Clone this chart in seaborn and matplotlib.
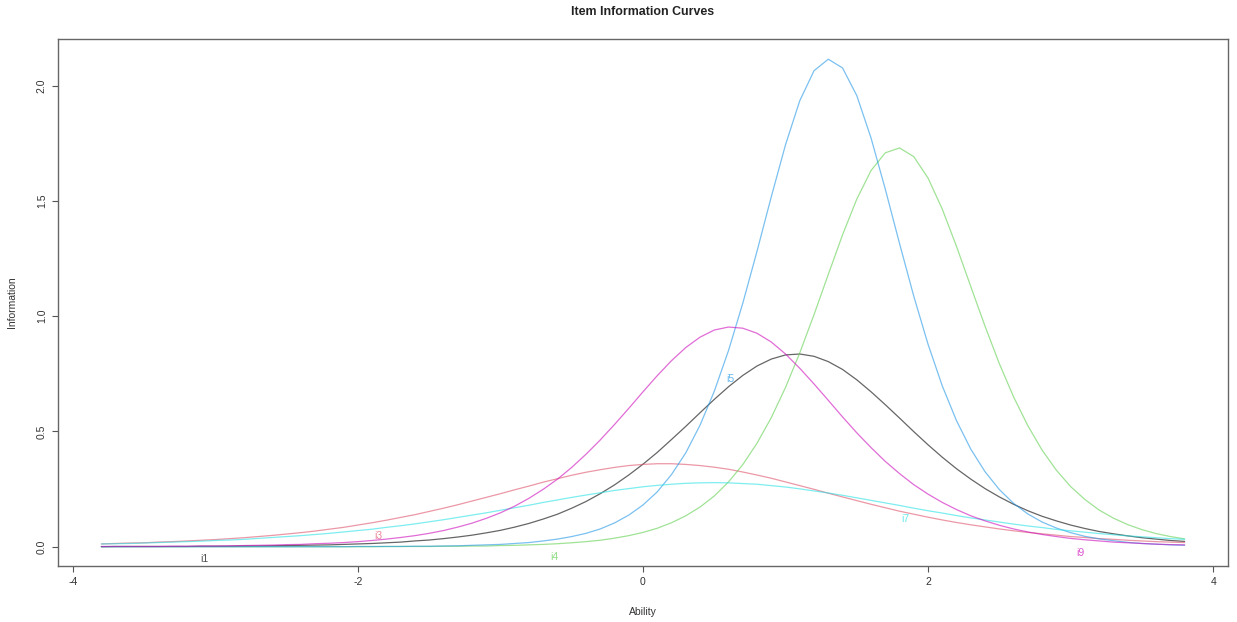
import matplotlib
matplotlib.use('Agg')
import matplotlib.pyplot as plt
import pandas as pd
import seaborn as sns

# Ability grid (theta) used for all the item curves
ABILITY = [-3.8, -3.7, -3.6, -3.5, -3.4, -3.3, -3.2, -3.1, -3.0, -2.9,
           -2.8, -2.7, -2.6, -2.5, -2.4, -2.3, -2.2, -2.1, -2.0, -1.9,
           -1.8, -1.7, -1.6, -1.5, -1.4, -1.3, -1.2, -1.1, -1.0, -0.9,
           -0.8, -0.7, -0.6, -0.5, -0.4, -0.3, -0.2, -0.1, 0.0, 0.1,
           0.2, 0.3, 0.4, 0.5, 0.6, 0.7, 0.8, 0.9, 1.0, 1.1,
           1.2, 1.3, 1.4, 1.5, 1.6, 1.7, 1.8, 1.9, 2.0, 2.1,
           2.2, 2.3, 2.4, 2.5, 2.6, 2.7, 2.8, 2.9, 3.0, 3.1,
           3.2, 3.3, 3.4, 3.5, 3.6, 3.7, 3.8]

# Information x 1000
INFO_I1 = [0, 1, 1, 1, 1, 1, 1, 2, 2, 2, 3, 3, 4, 5, 6, 7, 8, 10, 12, 14,
           17, 20, 25, 29, 35, 42, 50, 60, 71, 85, 101, 120, 141, 167, 196, 230, 268, 311, 358, 409,
           465, 522, 581, 639, 694, 743, 784, 814, 832, 836, 826, 803, 769, 724, 672, 616, 558, 499, 442, 388,
           338, 293, 252, 216, 184, 156, 132, 112, 94, 79, 66, 56, 47, 39, 33, 27, 23]
INFO_I3 = [12, 14, 16, 17, 20, 22, 25, 28, 31, 35, 39, 44, 49, 55, 61, 68, 76, 84, 94, 104,
           115, 127, 139, 153, 167, 182, 198, 214, 230, 247, 263, 280, 295, 310, 323, 334, 344, 352, 357, 360,
           360, 357, 352, 345, 336, 324, 311, 297, 281, 265, 249, 232, 216, 200, 184, 169, 154, 141, 128, 116,
           105, 95, 86, 77, 69, 62, 56, 50, 44, 40, 35, 32, 28, 25, 22, 20, 18]
INFO_I4 = [0, 0, 0, 0, 0, 0, 0, 0, 0, 0, 0, 0, 0, 0, 0, 0, 0, 0, 0, 0,
           1, 1, 1, 1, 2, 2, 3, 3, 5, 6, 8, 10, 13, 17, 22, 28, 37, 48, 62, 80,
           104, 134, 172, 220, 281, 356, 449, 560, 691, 841, 1007, 1181, 1353, 1508, 1632, 1709, 1730, 1692, 1599, 1464,
           1302, 1128, 956, 794, 650, 525, 419, 332, 261, 205, 159, 124, 96, 74, 57, 44, 34]
INFO_I5 = [0, 0, 0, 0, 0, 0, 0, 0, 0, 0, 0, 0, 0, 0, 0, 0, 0, 0, 1, 1,
           1, 1, 2, 2, 3, 4, 6, 8, 10, 14, 18, 25, 33, 44, 58, 77, 103, 137, 181, 238,
           313, 407, 527, 674, 851, 1056, 1282, 1518, 1744, 1935, 2065, 2115, 2077, 1957, 1773, 1551, 1315, 1086, 878, 697,
           546, 423, 325, 248, 188, 142, 107, 81, 61, 45, 34, 26, 19, 14, 11, 8, 6]
INFO_I7 = [12, 13, 14, 16, 18, 20, 22, 24, 27, 29, 32, 36, 40, 44, 48, 53, 58, 64, 70, 76,
           84, 91, 99, 108, 117, 127, 137, 147, 158, 169, 180, 192, 203, 214, 224, 234, 244, 252, 260, 266,
           271, 275, 277, 278, 277, 274, 271, 265, 259, 251, 242, 233, 223, 212, 201, 190, 179, 167, 156, 146,
           135, 125, 116, 107, 98, 90, 83, 75, 69, 63, 57, 52, 47, 43, 39, 35, 32]
INFO_I9 = [1, 1, 1, 1, 1, 2, 2, 3, 3, 4, 5, 6, 7, 9, 10, 13, 15, 18, 22, 27,
           33, 40, 48, 58, 70, 85, 102, 123, 147, 176, 210, 249, 293, 344, 401, 463, 530, 600, 672, 742,
           807, 864, 909, 940, 953, 948, 926, 888, 836, 774, 706, 635, 563, 494, 430, 370, 317, 269, 228, 192,
           161, 134, 112, 93, 77, 64, 53, 44, 36, 30, 25, 20, 17, 14, 11, 9, 8]

ITEMS = ['i1', 'i3', 'i4', 'i5', 'i7', 'i9']
COLORES = ['#000000', '#DF536B', '#61D04F', '#2297E6', '#28E2E5', '#CD0BBC']
# where each item label sits on the plot
LABEL_X = [-3.08, -1.86, -0.62, 0.61, 1.84, 3.07]
LABEL_Y = [-0.053, 0.046, -0.045, 0.726, 0.119, -0.026]

TICKS_X = [-4, -2, 0, 2, 4]
TICKS_Y = [0.0, 0.5, 1.0, 1.5, 2.0]

series = [INFO_I1, INFO_I3, INFO_I4, INFO_I5, INFO_I7, INFO_I9]
df = pd.concat(
    [pd.DataFrame({'ability': ABILITY, 'info': [v / 1000 for v in vals], 'item': item})
     for item, vals in zip(ITEMS, series)],
    ignore_index=True,
)
paleta = dict(zip(ITEMS, COLORES))

sns.set_theme(style='white')
plt.rcParams['font.family'] = ['Liberation Sans', 'DejaVu Sans']

fig = plt.figure(figsize=(12.37, 6.22), dpi=100)
ax = fig.add_axes([0.0469, 0.0900, 0.9458, 0.8473])

sns.lineplot(data=df, x='ability', y='info', hue='item', palette=paleta,
             linewidth=0.9, alpha=0.6, legend=False, ax=ax, estimator=None)

for item, col, lx, ly in zip(ITEMS, COLORES, LABEL_X, LABEL_Y):
    ax.text(lx, ly, item, color=col, alpha=0.7, fontsize=7.5,
            ha='center', va='center')

ax.set_xlim(-4.104, 4.104)
ax.set_ylim(-0.0838, 2.2026)
ax.set_xticks(TICKS_X)
ax.set_xticklabels([str(t) for t in TICKS_X])
ax.set_yticks(TICKS_Y)
ax.set_yticklabels([f'{t:.1f}' for t in TICKS_Y], rotation=90, va='center')

ax.tick_params(axis='both', which='both', direction='out', length=4, width=0.8,
               color='#555555', labelsize=7.5, labelcolor='#333333', pad=4,
               bottom=True, left=True)
for s in ax.spines.values():
    s.set_visible(True)
    s.set_color('#666666')
    s.set_linewidth(1.0)

ax.set_xlabel('Ability', fontsize=7.5, color='#333333', labelpad=14)
ax.set_ylabel('Information', fontsize=7.5, color='#333333', labelpad=14)
ax.set_title('Item Information Curves', fontsize=8.9, fontweight='bold',
             color='#222222', pad=17)

fig.savefig('out.png', dpi=100)
